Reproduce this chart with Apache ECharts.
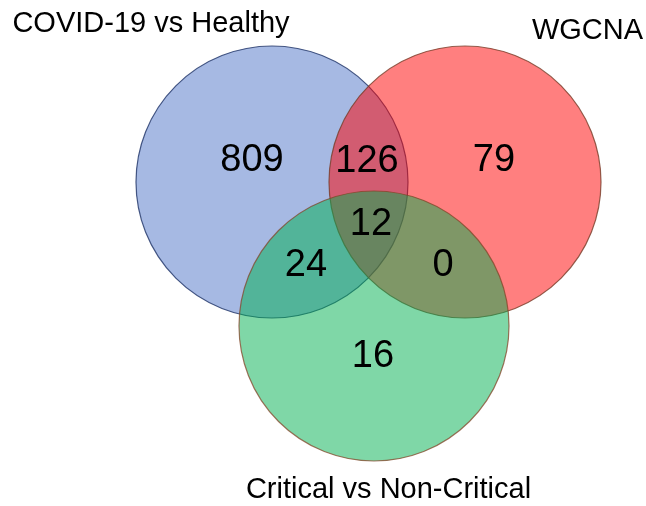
<!DOCTYPE html>
<html><head><meta charset="utf-8">
<script src="https://cdn.jsdelivr.net/npm/echarts@6/dist/echarts.min.js"></script>
<style>html,body{margin:0;padding:0;background:#fff}#c{width:646px;height:506px}</style>
</head><body><div id="c"></div>
<script>
// Venn geometry in diagram units (1 unit = 100 px, y measured upward)
const setNames = ['COVID-19 vs Healthy', 'WGCNA', 'Critical vs Non-Critical'];
const setCx = [2.72, 4.65, 3.74];
const setCy = [3.24, 3.24, 1.80];
const setR = [1.36, 1.36, 1.35];
const setLabelX = [1.51, 5.875, 3.885];
const setLabelY = [4.82, 4.75, 0.16];
const setFill = ['rgba(77,115,199,0.5)', 'rgba(255,0,0,0.5)', 'rgba(0,176,80,0.5)'];
const setStroke = ['rgba(40,60,110,0.85)', 'rgba(120,60,40,0.8)', 'rgba(130,70,40,0.75)'];

// region counts
const regionCounts = [809, 126, 79, 12, 24, 0, 16];
const regionX = [2.52, 3.67, 4.94, 3.71, 3.06, 4.43, 3.73];
const regionY = [3.45, 3.44, 3.45, 2.81, 2.40, 2.40, 1.49];

const circleData = setNames.map((n, i) => [setCx[i], setCy[i], setR[i], i]);
const regionData = regionCounts.map((v, i) => [regionX[i], regionY[i], v]);
const nameData = setNames.map((n, i) => [setLabelX[i], setLabelY[i], i]);

const chart = echarts.init(document.getElementById('c'));
chart.setOption({
  animation: false,
  grid: {left: 0, right: 0, top: 0, bottom: 0},
  xAxis: {type: 'value', min: 0, max: 6.46, show: false},
  yAxis: {type: 'value', min: 0, max: 5.06, show: false},
  series: [
    {
      type: 'custom',
      data: circleData,
      encode: {x: 0, y: 1},
      renderItem: function (params, api) {
        const c = api.coord([api.value(0), api.value(1)]);
        const r = api.size([api.value(2), 0])[0];
        const i = api.value(3);
        return {
          type: 'circle',
          shape: {cx: c[0], cy: c[1], r: r},
          style: {fill: setFill[i], stroke: setStroke[i], lineWidth: 1.2}
        };
      },
      z: 1
    },
    {
      type: 'custom',
      data: regionData,
      encode: {x: 0, y: 1},
      renderItem: function (params, api) {
        const c = api.coord([api.value(0), api.value(1)]);
        return {
          type: 'text',
          x: c[0], y: c[1],
          style: {
            text: String(api.value(2)),
            fill: '#000',
            font: '38px "Liberation Sans", Arial, sans-serif',
            align: 'center', verticalAlign: 'middle'
          }
        };
      },
      z: 3
    },
    {
      type: 'custom',
      data: nameData,
      encode: {x: 0, y: 1},
      renderItem: function (params, api) {
        const c = api.coord([api.value(0), api.value(1)]);
        return {
          type: 'text',
          x: c[0], y: c[1],
          style: {
            text: setNames[api.value(2)],
            fill: '#000',
            font: '29px "Liberation Sans", Arial, sans-serif',
            align: 'center', verticalAlign: 'middle'
          }
        };
      },
      z: 3
    }
  ]
});
</script>
</body></html>
